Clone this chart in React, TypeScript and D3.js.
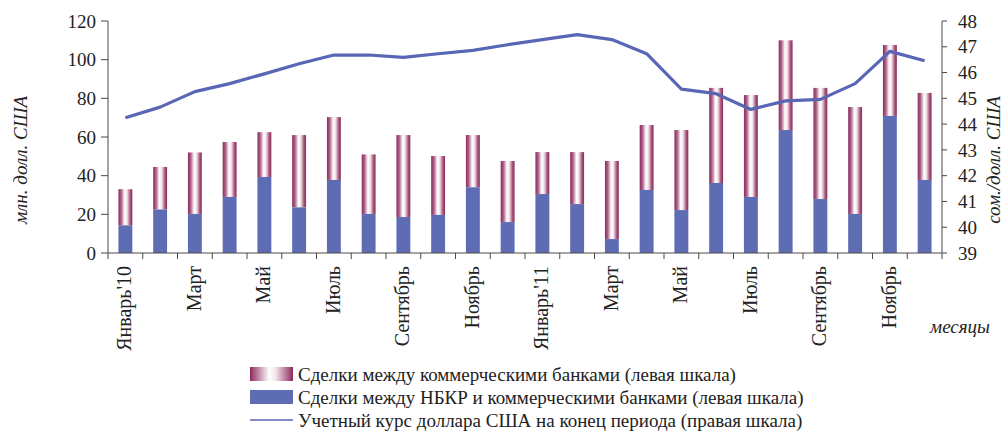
import React from "react";
import * as d3 from "d3";

const months = [
  "Январь'10", "Февраль", "Март", "Апрель", "Май", "Июнь", "Июль", "Август",
  "Сентябрь", "Октябрь", "Ноябрь", "Декабрь",
  "Январь'11", "Февраль", "Март", "Апрель", "Май", "Июнь", "Июль", "Август",
  "Сентябрь", "Октябрь", "Ноябрь", "Декабрь",
];
const shownLabels = [
  "Январь'10", "", "Март", "", "Май", "", "Июль", "", "Сентябрь", "", "Ноябрь", "",
  "Январь'11", "", "Март", "", "Май", "", "Июль", "", "Сентябрь", "", "Ноябрь", "",
];
// total interbank volume (bar top) and NBKR part
const totalVolume = [33, 44.5, 52, 57.4, 62.5, 61, 70.3, 51, 61, 50.2, 61, 47.6,
  52.2, 52.2, 47.6, 66.2, 63.6, 85.4, 81.7, 110, 85.4, 75.5, 107.6, 82.8];
const nbkrVolume = [14.3, 22.5, 20.2, 29, 39.3, 23.6, 37.8, 20.2, 18.6, 19.7, 34, 16,
  30.5, 25.3, 7.2, 32.6, 22.2, 36.2, 29, 63.6, 27.9, 20.2, 70.9, 37.8];
const usdRate = [44.25, 44.66, 45.26, 45.57, 45.95, 46.34, 46.68, 46.68, 46.59, 46.73, 46.86, 47.08,
  47.28, 47.47, 47.28, 46.73, 45.36, 45.18, 44.57, 44.9, 44.96, 45.57, 46.82, 46.46];
const leftTicks = [0, 20, 40, 60, 80, 100, 120];
const rightTicks = [39, 40, 41, 42, 43, 44, 45, 46, 47, 48];
const legendLabels = [
  "Сделки между коммерческими банками (левая шкала)",
  "Сделки между НБКР и коммерческими банками (левая шкала)",
  "Учетный курс доллара США на конец периода (правая шкала)",
];

const W = 1004, H = 432;
const M = { left: 108, right: 942, top: 21, bottom: 253 };
const BLUE = "#5d6cb3";
const LINE = "#5866b5";
const MAG = "#8c2a5c";
const AX = "#4a4a4a";
const FONT = "'Liberation Serif', 'Times New Roman', serif";

export default function App() {
  const x = d3.scaleBand<number>().domain(d3.range(months.length)).range([M.left, M.right]).paddingInner(0.6).paddingOuter(0.3);
  const xb = d3.scaleBand<number>().domain(d3.range(months.length)).range([M.left, M.right]);
  const yL = d3.scaleLinear().domain([0, 120]).range([M.bottom, M.top]);
  const yR = d3.scaleLinear().domain([39, 48]).range([M.bottom, M.top]);
  const line = d3.line<number>().x((_, i) => xb(i)! + xb.bandwidth() / 2).y((d) => yR(d));
  const bw = x.bandwidth();

  return (
    <svg width={W} height={H} style={{ position: "absolute", left: 0, top: 0, background: "#fff" }} fontFamily={FONT}>
      <defs>
        <linearGradient id="pinkGrad" x1="0" x2="1" y1="0" y2="0">
          <stop offset="0" stopColor={MAG} />
          <stop offset="0.2" stopColor="#ac6088" />
          <stop offset="0.45" stopColor="#ffffff" />
          <stop offset="0.62" stopColor="#f3e4eb" />
          <stop offset="0.85" stopColor="#a45579" />
          <stop offset="1" stopColor={MAG} />
        </linearGradient>
        <linearGradient id="pinkLeg" x1="0" x2="1" y1="0" y2="0">
          <stop offset="0" stopColor={MAG} />
          <stop offset="0.45" stopColor="#ffffff" />
          <stop offset="0.6" stopColor="#f3e3ea" />
          <stop offset="1" stopColor={MAG} />
        </linearGradient>
      </defs>

      {/* bars */}
      {months.map((m, i) => (
        <g key={i}>
          <rect x={x(i)} y={yL(totalVolume[i])} width={bw} height={yL(nbkrVolume[i]) - yL(totalVolume[i])} fill="url(#pinkGrad)" />
          <rect x={x(i)} y={yL(nbkrVolume[i])} width={bw} height={yL(0) - yL(nbkrVolume[i])} fill={BLUE} />
        </g>
      ))}

      {/* line */}
      <path d={line(usdRate)!} fill="none" stroke={LINE} strokeWidth={3.2} strokeLinejoin="round" />

      {/* left axis */}
      <line x1={M.left} x2={M.left} y1={M.top} y2={M.bottom} stroke={AX} strokeWidth={1} />
      {leftTicks.map((t) => (
        <g key={t}>
          <line x1={M.left - 7} x2={M.left} y1={yL(t)} y2={yL(t)} stroke={AX} />
          <text x={M.left - 12} y={yL(t)} dy="0.35em" textAnchor="end" fontSize={19} fill="#222">{t}</text>
        </g>
      ))}
      {/* right axis */}
      <line x1={M.right} x2={M.right} y1={M.top} y2={M.bottom} stroke={AX} strokeWidth={1} />
      {rightTicks.map((t) => (
        <g key={t}>
          <line x1={M.right} x2={M.right + 5} y1={yR(t)} y2={yR(t)} stroke={AX} />
          <text x={M.right + 16} y={yR(t)} dy="0.35em" textAnchor="start" fontSize={19} fill="#222">{t}</text>
        </g>
      ))}
      {/* x axis */}
      <line x1={M.left} x2={M.right} y1={M.bottom} y2={M.bottom} stroke={AX} strokeWidth={1} />
      {d3.range(months.length + 1).map((i) => {
        const px = M.left + i * xb.step();
        return <line key={i} x1={px} x2={px} y1={M.bottom} y2={M.bottom + 6} stroke={AX} />;
      })}
      {shownLabels.map((l, i) =>
        l ? (
          <text key={i} transform={`translate(${xb(i)! + xb.bandwidth() / 2 + 6},${M.bottom + 13}) rotate(-90)`} textAnchor="end" fontSize={20} fill="#222">{l}</text>
        ) : null
      )}

      {/* axis titles */}
      <text transform={`translate(27,160) rotate(-90)`} textAnchor="middle" fontSize={19} fontStyle="italic" fill="#222">млн. долл. США</text>
      <text transform={`translate(1000,160) rotate(-90)`} textAnchor="middle" fontSize={19} fontStyle="italic" fill="#222">сом./долл. США</text>
      <text x={990} y={333} textAnchor="end" fontSize={19} fontStyle="italic" fill="#222">месяцы</text>

      {/* legend */}
      <rect x={250} y={367} width={43} height={14} fill="url(#pinkLeg)" />
      <rect x={250} y={390} width={43} height={14} fill={BLUE} />
      <line x1={250} x2={293} y1={420} y2={420} stroke={LINE} strokeWidth={1.5} />
      {legendLabels.map((l, i) => (
        <text key={i} x={298} y={374 + i * 23} dy="0.35em" fontSize={19} fill="#222">{l}</text>
      ))}
    </svg>
  );
}
